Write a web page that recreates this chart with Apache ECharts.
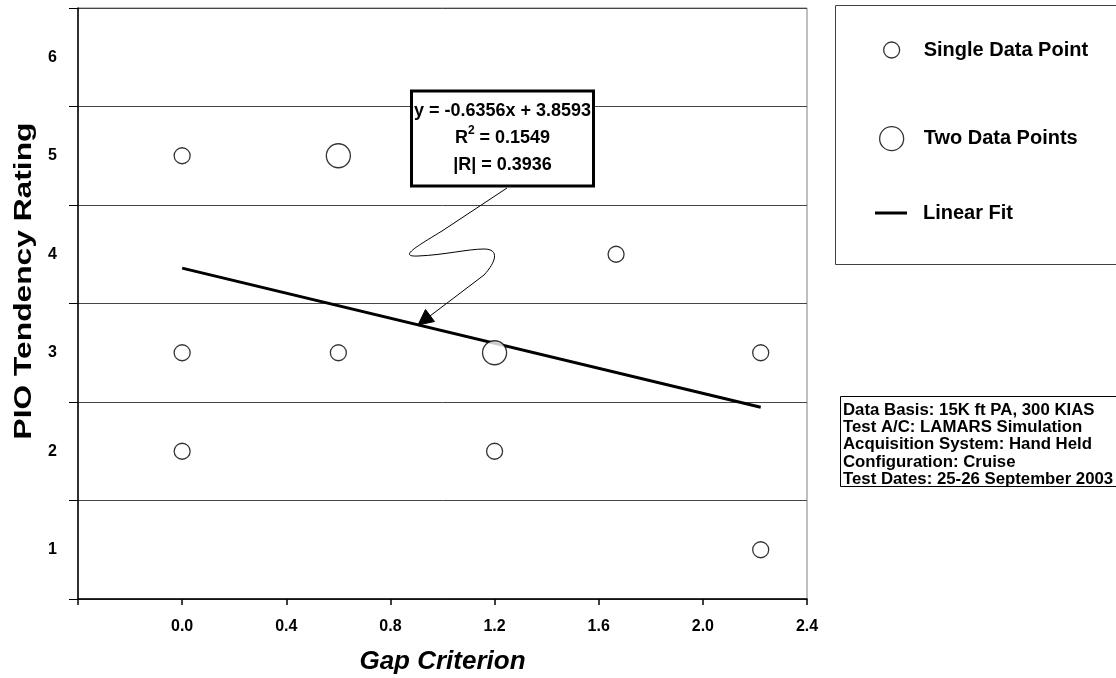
<!DOCTYPE html>
<html>
<head>
<meta charset="utf-8">
<script src="https://cdn.jsdelivr.net/npm/echarts@6/dist/echarts.min.js"></script>
<style>
html,body{margin:0;padding:0;background:#fff;}
#c{width:1116px;height:678px;}
</style>
</head>
<body>
<div id="c"></div>
<script>
// ---- data ----
var singlePoints = [[0, 5], [0, 3], [0, 2], [0.6, 3], [1.2, 2], [1.6667, 4], [2.2222, 3], [2.2222, 1]];
var doublePoints = [[0.6, 5], [1.2, 3]];
var fitLine = [[0, 3.8593], [2.2222, 2.4469]];
var equationLines = ['y = -0.6356x + 3.8593', '{b|R}{sup|2}{b| = 0.1549}', '|R| = 0.3936'];
var infoLines = ['Data Basis: 15K ft PA, 300 KIAS', 'Test A/C: LAMARS Simulation', 'Acquisition System: Hand Held', 'Configuration: Cruise', 'Test Dates: 25-26 September 2003'];
var seriesNames = ['Single Data Point', 'Two Data Points', 'Linear Fit'];
var xTitle = 'Gap Criterion';
var yTitle = 'PIO Tendency Rating';

var FONT = "'Liberation Sans', Arial, sans-serif";
var chart = echarts.init(document.getElementById('c'), null, {renderer: 'canvas'});

var legendText = {fontFamily: FONT, fontWeight: 'bold', fontSize: 20, color: '#000', lineHeight: 24};
var legendBase = {orient: 'vertical', padding: 0, itemGap: 0, selectedMode: false};
var thin = {fill: 'none', stroke: '#000', lineWidth: 1};
var EQF = 'bold 18px ' + FONT;

var option = {
  backgroundColor: '#fff',
  animation: false,
  textStyle: {fontFamily: FONT},
  grid: {left: 78, right: 309, top: 8, bottom: 79, show: true, borderColor: '#808080', borderWidth: 1,
    containLabel: false, outerBoundsMode: 'none'},
  xAxis: {
    type: 'value', min: -0.4, max: 2.4, interval: 0.4,
    name: xTitle, nameLocation: 'middle', nameGap: 50,
    nameTextStyle: {fontFamily: FONT, fontWeight: 'bold', fontStyle: 'italic', fontSize: 26, color: '#000'},
    axisLine: {show: true, onZero: false, lineStyle: {color: '#000', width: 1.5}},
    axisTick: {show: true, inside: false, length: 6, lineStyle: {color: '#000', width: 1.5}},
    axisLabel: {margin: 20, fontFamily: FONT, fontWeight: 'bold', fontSize: 16, color: '#000',
      formatter: function (v) { return Math.abs(v + 0.4) < 1e-6 ? '' : v.toFixed(1); }},
    splitLine: {show: false}
  },
  yAxis: [{
    type: 'value', min: 0.5, max: 6.5, interval: 1,
    axisLine: {show: true, onZero: false, lineStyle: {color: '#000', width: 1.5}},
    axisTick: {show: true, inside: false, length: 9, lineStyle: {color: '#000', width: 1}},
    axisLabel: {show: false},
    splitLine: {show: true, lineStyle: {color: '#444', width: 1}}
  }, {
    type: 'value', min: 0.5, max: 6.5, interval: 0.5, position: 'left',
    axisLine: {show: false}, axisTick: {show: false}, splitLine: {show: false},
    axisLabel: {margin: 21, fontFamily: FONT, fontWeight: 'bold', fontSize: 16, color: '#000',
      formatter: function (v) { return Math.abs(v - Math.round(v)) < 1e-6 ? String(Math.round(v)) : ''; }}
  }],
  legend: [
    Object.assign({}, legendBase, {data: [seriesNames[0]], left: 883, top: 38, itemWidth: 16, itemHeight: 16,
      itemStyle: {color: '#fff', borderColor: '#000', borderWidth: 1.3},
      textStyle: Object.assign({}, legendText, {padding: [0, 0, 0, 19]})}),
    Object.assign({}, legendBase, {data: [seriesNames[1]], left: 879, top: 126, itemWidth: 24, itemHeight: 24,
      itemStyle: {color: '#fff', borderColor: '#000', borderWidth: 1.3},
      textStyle: Object.assign({}, legendText, {padding: [0, 0, 0, 15]})}),
    Object.assign({}, legendBase, {data: [{name: seriesNames[2], icon: 'rect'}], left: 875, top: 201, itemWidth: 32, itemHeight: 3,
      itemStyle: {color: '#000'},
      textStyle: Object.assign({}, legendText, {padding: [0, 0, 0, 11]})})
  ],
  series: [{
    name: seriesNames[0], type: 'scatter', data: singlePoints, symbol: 'circle', symbolSize: 16, z: 5,
    itemStyle: {color: '#fff', borderColor: '#000', borderWidth: 1.3}
  }, {
    name: seriesNames[1], type: 'scatter', data: doublePoints, symbol: 'circle', symbolSize: 24, z: 5,
    itemStyle: {color: '#fff', borderColor: '#000', borderWidth: 1.3}
  }, {
    name: seriesNames[2], type: 'line', data: fitLine, symbol: 'none', showSymbol: false, z: 4,
    lineStyle: {color: '#000', width: 3}, itemStyle: {color: '#000'}
  }],
  graphic: [
    // y-axis title (stretched along its length as in the reference)
    {type: 'text', x: 25, y: 281, rotation: Math.PI / 2, scaleX: 1.38, z: 11,
      style: {text: yTitle, font: 'bold 23px ' + FONT, fill: '#000', align: 'center', verticalAlign: 'middle'}},
    {type: 'rect', shape: {x: 835.5, y: 5.5, width: 300, height: 259}, style: {fill: 'none', stroke: '#404040', lineWidth: 1}, z: 10},
    {type: 'rect', shape: {x: 840.5, y: 396.5, width: 300, height: 90}, style: {fill: '#fff', stroke: '#000', lineWidth: 1}, z: 10},
    {type: 'text', x: 843, y: 401.5, z: 11,
      style: {text: infoLines.join('\n'), font: 'bold 16.8px ' + FONT, fill: '#000', lineHeight: 17.3}},
    {type: 'rect', shape: {x: 411.5, y: 91, width: 182, height: 95}, style: {fill: '#fff', stroke: '#000', lineWidth: 3}, z: 12},
    {type: 'text', x: 502.5, y: 98, z: 13,
      style: {text: equationLines.join('\n'), font: EQF, fill: '#000', align: 'center', lineHeight: 27,
        rich: {b: {font: EQF, fill: '#000', lineHeight: 27},
               sup: {font: 'bold 12px ' + FONT, fill: '#000', verticalAlign: 'top', lineHeight: 27, padding: [0, 0, 10, 0]}}}},
    {type: 'line', z: 12, shape: {x1: 507, y1: 188, x2: 442, y2: 231}, style: thin},
    {type: 'bezierCurve', z: 12, shape: {x1: 442, y1: 231, cpx1: 416, cpy1: 247, cpx2: 398, cpy2: 257, x2: 418, y2: 256}, style: thin},
    {type: 'bezierCurve', z: 12, shape: {x1: 418, y1: 256, cpx1: 444, cpy1: 255, cpx2: 468, cpy2: 249, x2: 484, y2: 249}, style: thin},
    {type: 'bezierCurve', z: 12, shape: {x1: 484, y1: 249, cpx1: 500, cpy1: 249, cpx2: 496, cpy2: 262, x2: 484, y2: 275}, style: thin},
    {type: 'line', z: 12, shape: {x1: 484, y1: 275, x2: 430, y2: 316}, style: thin},
    {type: 'polygon', z: 12, shape: {points: [[418, 325], [434.5, 321.5], [425.5, 309.5]]}, style: {fill: '#000', stroke: '#000'}}
  ]
};
chart.setOption(option);
</script>
</body>
</html>
